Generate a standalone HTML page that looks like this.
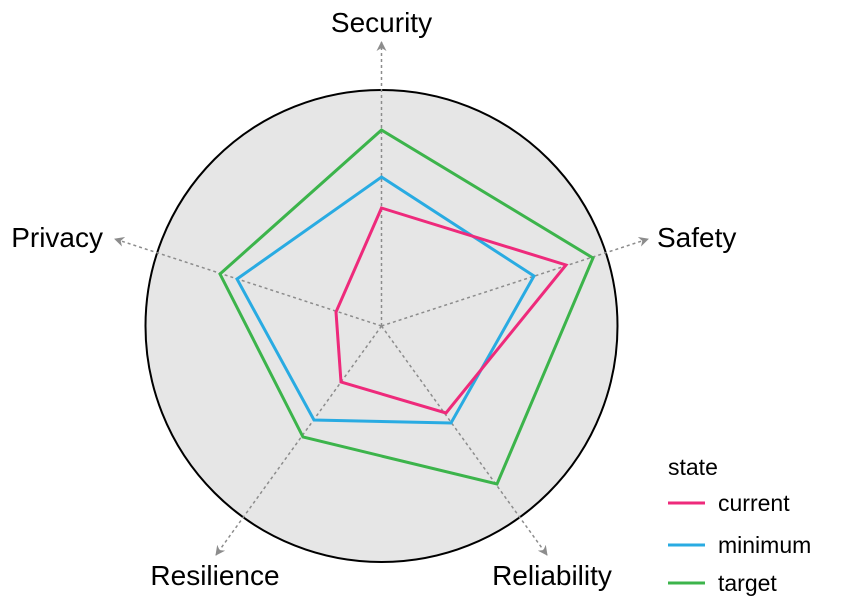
<!DOCTYPE html>
<html><head><meta charset="utf-8"><style>
body{margin:0;background:#fff;}
svg{display:block;font-family:"Liberation Sans",sans-serif;}
</style></head><body>
<svg width="842" height="608" viewBox="0 0 842 608">
<defs>
<marker id="ar" viewBox="0 0 10 10" refX="9" refY="5" markerWidth="10" markerHeight="10" markerUnits="userSpaceOnUse" orient="auto">
<path d="M0,0 L10,5 L0,10 L3,5 z" fill="#8c8c8c"/></marker>
</defs>
<circle cx="381.5" cy="326" r="236" fill="#e6e6e6" stroke="#000" stroke-width="2"/>
<g stroke="#8c8c8c" stroke-width="1.5" stroke-dasharray="3,3" fill="none" marker-end="url(#ar)">
<line x1="381.5" y1="326" x2="381.5" y2="42"/>
<line x1="381.5" y1="326" x2="648" y2="239"/>
<line x1="381.5" y1="326" x2="115" y2="239"/>
<line x1="381.5" y1="326" x2="216" y2="555"/>
<line x1="381.5" y1="326" x2="547" y2="555"/>
</g>
<g fill="none" stroke-width="3" stroke-linejoin="miter">
<polygon points="381.5,130 593,258 497,484 303,437 220,274" stroke="#3cb44b"/>
<polygon points="381.5,177 534,276 451,423 314,420 237,279" stroke="#29abe2"/>
<polygon points="381.5,208 566,265 446,413 341,382 336,312" stroke="#ee2a7b"/>
</g>
<g font-size="28" fill="#000">
<text x="381.5" y="32" text-anchor="middle">Security</text>
<text x="657" y="247">Safety</text>
<text x="103" y="247" text-anchor="end">Privacy</text>
<text x="215" y="585" text-anchor="middle">Resilience</text>
<text x="552" y="585" text-anchor="middle">Reliability</text>
</g>
<g font-size="23" fill="#000">
<text x="668" y="475">state</text>
<text x="718" y="511">current</text>
<text x="718" y="553">minimum</text>
<text x="718" y="591">target</text>
</g>
<line x1="668" y1="503" x2="705" y2="503" stroke="#ee2a7b" stroke-width="3"/>
<line x1="668" y1="545" x2="705" y2="545" stroke="#29abe2" stroke-width="3"/>
<line x1="668" y1="583" x2="705" y2="583" stroke="#3cb44b" stroke-width="3"/>
</svg>
</body></html>
